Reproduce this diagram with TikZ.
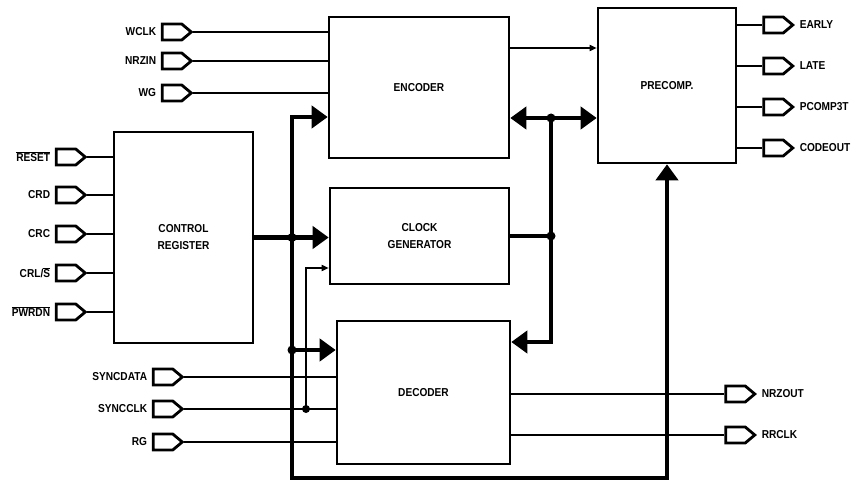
\documentclass[tikz,border=0pt]{standalone}
\usepackage{fontspec}
\setmainfont{Liberation Sans}[FakeStretch=0.88]
\usetikzlibrary{arrows.meta, shapes.symbols}

\begin{document}
\begin{tikzpicture}[x=1pt, y=-1pt, line width=1.6pt,
      every node/.style={font=\bfseries\fontsize{11.5}{17}\selectfont},
      big/.tip={Triangle[length=16pt, width=22pt]},
      small/.tip={Triangle[length=7pt, width=6pt]},
      blk/.style={draw, line width=2.6pt, inner sep=0pt},
      pin/.style={draw, signal, signal to=east, signal pointer angle=80,
        line width=2.8pt, minimum width=29pt, minimum height=16pt, inner sep=0pt},
      lbl/.style={inner sep=0pt, label distance=4pt},
      bus/.style={line width=4.5pt},
      dot/.style={circle, fill, inner sep=0pt, minimum size=9pt}]
    \useasboundingbox (0,0) rectangle (857,484);

    \node[blk, minimum width=180pt, minimum height=141pt] (enc) at (419,87.5) {ENCODER};
    \node[blk, minimum width=179pt, minimum height=96pt, align=center]
      (clk) at (419.5,236) {CLOCK\\GENERATOR};
    \node[blk, minimum width=173pt, minimum height=143pt] (dec) at (423.5,392.5) {DECODER};
    \node[blk, minimum width=139pt, minimum height=211pt, align=center]
      (ctrl) at (183.5,237.5) {CONTROL\\REGISTER};
    \node[blk, minimum width=138pt, minimum height=155pt] (pre) at (667,85.5) {PRECOMP.};

    \foreach \n/\y/\t in {wclk/32/WCLK, nrzin/61/NRZIN, wg/93/WG}{
      \node[pin, label={[lbl]left:\t}] (\n) at (172,\y) {};
      \draw (\n.east) -- (\n.east -| enc.west);
    }
    \foreach \n/\y/\t in {reset/157/{$\overline{\mbox{RESET}}$}, crd/195/CRD, crc/234/CRC,
        crls/273/{CRL/$\overline{\mbox{S}}$}, pwrdn/312/{$\overline{\mbox{PWRDN}}$}}{
      \node[pin, label={[lbl]left:\t}] (\n) at (66,\y) {};
      \draw (\n.east) -- (\n.east -| ctrl.west);
    }
    \foreach \n/\y/\t in {sdata/377/SYNCDATA, sclk/409/SYNCCLK, rg/442/RG}{
      \node[pin, label={[lbl]left:\t}] (\n) at (163,\y) {};
      \draw (\n.east) -- (\n.east -| dec.west);
    }
    \foreach \n/\y/\t in {early/25/EARLY, late/66/LATE, pcomp/107/PCOMP3T, code/148/CODEOUT}{
      \node[pin, label={[lbl]right:\t}] (\n) at (773.5,\y) {};
      \draw (\n.west -| pre.east) -- (\n.west);
    }
    \foreach \n/\y/\t in {nrzout/394/NRZOUT, rrclk/435/RRCLK}{
      \node[pin, label={[lbl]right:\t}] (\n) at (735.5,\y) {};
      \draw (\n.west -| dec.east) -- (\n.west);
    }

    \draw[-small] (enc.east |- 0,48) -- (pre.west |- 0,48);

    \coordinate (lt) at (292,117);
    \coordinate (lb) at (292,478);
    \coordinate (rt) at (551,118);
    \coordinate (rb) at (551,342);
    \coordinate (ck) at (306,268);
    \node[dot] (jc) at (lt |- ctrl.east) {};
    \node[dot] (jd) at (292,350) {};
    \node[dot] (jr) at (rt) {};
    \node[dot] (jg) at (rt |- clk.east) {};
    \node[dot, minimum size=8pt] (js) at (306,409) {};

    \draw[bus, big-big] (enc.west |- lt) -- (lt) -- (lb) -- (lb -| pre.south) -- (pre.south);
    \draw[bus, -big] (ctrl.east) -- (clk.west |- ctrl.east);
    \draw[bus, -big] (jd.center) -- (jd -| dec.west);
    \draw[bus, big-big] (enc.east |- jr) -- (pre.west |- jr);
    \draw[bus, -big] (jr.center) -- (rb) -- (rb -| dec.east);
    \draw[bus] (clk.east) -- (jg.center);
    \draw[-small] (js.center) -- (ck) -- (ck -| clk.west);
  \end{tikzpicture}
\end{document}
